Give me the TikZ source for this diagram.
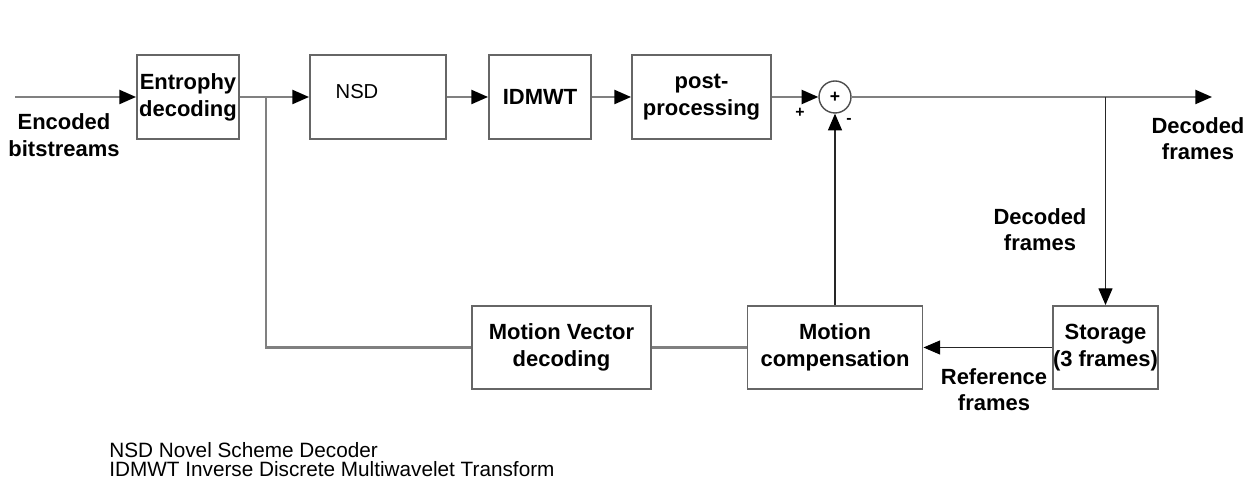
\documentclass[tikz,border=0pt]{standalone}
\usepackage{fontspec}
\setmainfont{Liberation Sans}
\usetikzlibrary{arrows.meta}

\begin{document}
\begin{tikzpicture}[>={Triangle[length=9.5pt,width=8pt,color=black,fill=black]},
    blk/.style={draw=black!60,line width=1.1pt,minimum height=1.68cm,inner sep=0pt,align=center,font=\fontsize{12.5}{15.5}\selectfont\bfseries},
    lbl/.style={align=center,inner sep=0pt,font=\fontsize{12.5}{15}\selectfont\bfseries},
    note/.style={anchor=west,inner sep=0pt,font=\fontsize{11.8}{13}\selectfont},
    main/.style={draw=gray,line width=1.2pt},
    fine/.style={draw=black!85,line width=0.6pt}]
    \useasboundingbox (0,0) rectangle (25.1,-9.74);
    \node[blk,minimum width=2.04cm] (ent) at (3.76,-1.94) {Entrophy\\decoding};
    \node[blk,minimum width=2.72cm,label={[font=\fontsize{11.5}{13}\selectfont,xshift=-0.42cm,yshift=0.1cm]center:NSD}] (nsd) at (7.56,-1.94) {};
    \node[blk,minimum width=2.04cm] (idmwt) at (10.80,-1.94) {IDMWT};
    \node[blk,minimum width=2.78cm] (post) at (14.03,-1.94) {post-\\processing};
    \node[draw=black!70,line width=0.8pt,circle,minimum size=0.64cm,inner sep=0pt,font=\fontsize{10}{12}\selectfont\bfseries] (sum) at (16.70,-1.94) {+};
    \node[blk,minimum width=3.58cm,minimum height=1.66cm] (mv) at (11.23,-6.95) {Motion Vector\\decoding};
    \node[blk,minimum width=3.50cm,minimum height=1.66cm] (mc) at (16.70,-6.95) {Motion\\compensation};
    \node[blk,minimum width=2.06cm,minimum height=1.66cm] (st) at (22.11,-6.95) {Storage\\(3 frames)};
    \coordinate (in) at (0.30,-1.94);
    \coordinate (br) at (5.32,-1.94);
    \coordinate (tap) at (22.11,-1.94);
    \coordinate (out) at (24.24,-1.94);
    \draw[main,->] (in) -- (ent);
    \draw[main,->] (ent) -- (nsd);
    \draw[main,->] (nsd) -- (idmwt);
    \draw[main,->] (idmwt) -- (post);
    \draw[main,->] (post) -- (sum);
    \draw[main,->] (sum) -- (out);
    \draw[main] (br) |- (mv);
    \draw[main] (mv) -- (mc);
    \draw[fine,->] (tap) -- (st);
    \draw[fine,->] (st) -- (mc);
    \draw[fine,->] (mc) -- (sum);
    \node[lbl,font=\fontsize{9}{10}\selectfont\bfseries] (plus) at (16.00,-2.26) {+};
    \node[lbl,font=\fontsize{9}{10}\selectfont\bfseries] (minus) at (16.98,-2.42) {-};
    \node[lbl] (enc) at (1.28,-2.70) {Encoded\\bitstreams};
    \node[lbl] (dec1) at (23.96,-2.77) {Decoded\\frames};
    \node[lbl] (dec2) at (20.80,-4.59) {Decoded\\frames};
    \node[lbl] (ref) at (19.88,-7.79) {Reference\\frames};
    \node[note] (n1) at (2.18,-9.00) {NSD Novel Scheme Decoder};
    \node[note] (n2) at (2.18,-9.38) {IDMWT Inverse Discrete Multiwavelet Transform};
  \end{tikzpicture}
\end{document}
